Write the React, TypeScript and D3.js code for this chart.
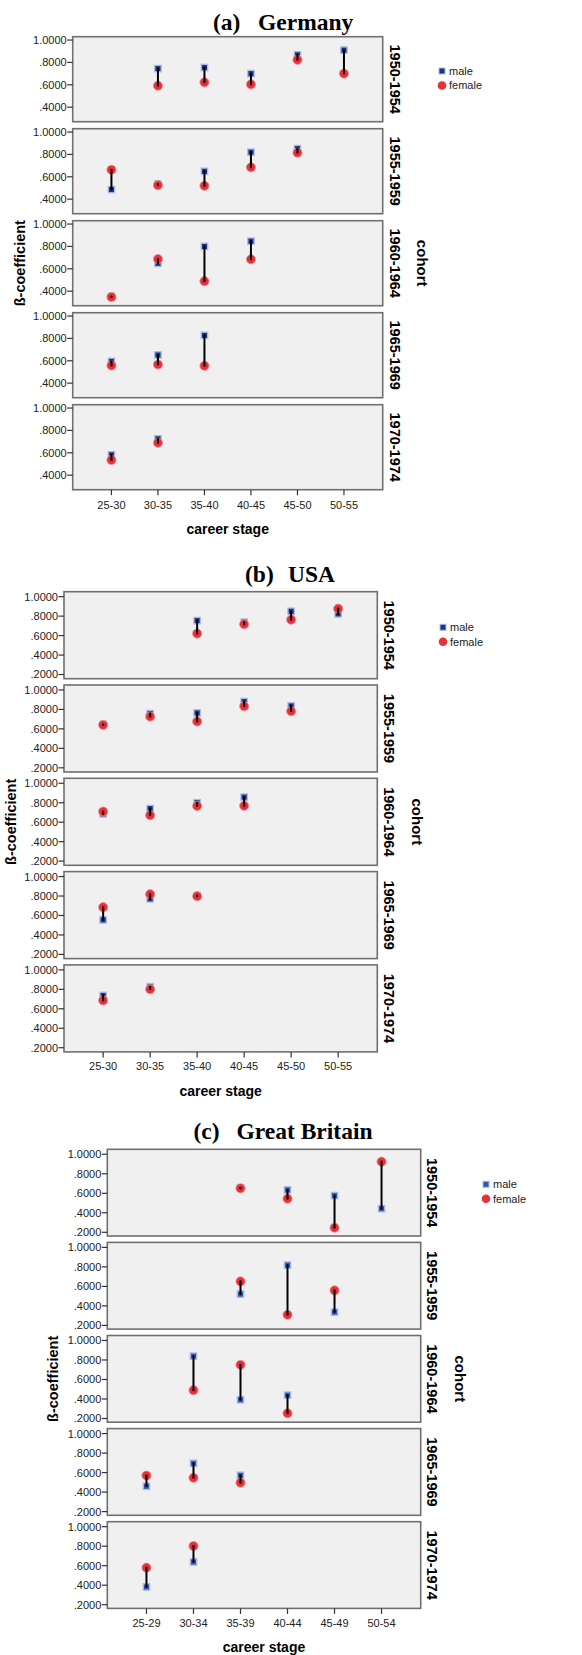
import React from "react";
import * as d3 from "d3";

// ---------- DATA ----------
const cohorts = ["1950-1954", "1955-1959", "1960-1964", "1965-1969", "1970-1974"];
const seriesNames = ["male", "female"];

const deStages = ["25-30", "30-35", "35-40", "40-45", "45-50", "50-55"];
const deMale: (number | null)[][] = [
  [null, 0.745, 0.754, 0.70, 0.868, 0.91],
  [0.486, 0.535, 0.649, 0.82, 0.852, null],
  [0.352, 0.649, 0.80, 0.847, null, null],
  [0.595, 0.652, 0.827, null, null, null],
  [0.582, 0.725, null, null, null, null],
];
const deFemale: (number | null)[][] = [
  [null, 0.592, 0.622, 0.604, 0.823, 0.70],
  [0.663, 0.525, 0.519, 0.685, 0.816, null],
  [0.348, 0.687, 0.489, 0.685, null, null],
  [0.558, 0.567, 0.555, null, null, null],
  [0.536, 0.69, null, null, null, null],
];

const usStages = ["25-30", "30-35", "35-40", "40-45", "45-50", "50-55"];
const usMale: (number | null)[][] = [
  [null, null, 0.754, 0.738, 0.85, 0.823],
  [0.645, 0.758, 0.764, 0.881, 0.836, null],
  [0.685, 0.74, 0.80, 0.858, null, null],
  [0.555, 0.771, 0.805, null, null, null],
  [0.737, 0.826, null, null, null, null],
];
const usFemale: (number | null)[][] = [
  [null, null, 0.621, 0.717, 0.764, 0.877],
  [0.641, 0.727, 0.676, 0.833, 0.782, null],
  [0.709, 0.672, 0.767, 0.768, null, null],
  [0.685, 0.819, 0.798, null, null, null],
  [0.686, 0.801, null, null, null, null],
];

const gbStages = ["25-29", "30-34", "35-39", "40-44", "45-49", "50-54"];
const gbMale: (number | null)[][] = [
  [null, null, 0.655, 0.634, 0.576, 0.442],
  [null, null, 0.521, 0.818, 0.336, null],
  [null, 0.839, 0.392, 0.439, null, null],
  [0.46, 0.695, 0.572, null, null, null],
  [0.382, 0.638, null, null, null, null],
];
const gbFemale: (number | null)[][] = [
  [null, null, 0.651, 0.545, 0.247, 0.924],
  [null, null, 0.651, 0.309, 0.559, null],
  [null, 0.49, 0.75, 0.254, null, null],
  [0.569, 0.546, 0.497, null, null, null],
  [0.58, 0.802, null, null, null, null],
];

const deTicks = [1.0, 0.8, 0.6, 0.4];
const usTicks = [1.0, 0.8, 0.6, 0.4, 0.2];
const gbTicks = [1.0, 0.8, 0.6, 0.4, 0.2];

// ---------- LAYOUT ----------
type Cfg = {
  tag: string; name: string; tagX: number; nameX: number; titleY: number;
  stages: string[]; male: (number | null)[][]; female: (number | null)[][];
  ticks: number[]; domain: [number, number];
  left: number; right: number; top: number; pitch: number; h: number;
  tickLabelY: number; xTitleY: number; rowX: number; cohortX: number; betaX: number;
  legX: number; legY: number; maleColor: string;
};

const charts: Cfg[] = [
  {
    tag: "(a)", name: "Germany", tagX: 213, nameX: 258, titleY: 30,
    stages: deStages, male: deMale, female: deFemale, ticks: deTicks, domain: [0.27, 1.03],
    left: 72.7, right: 382.7, top: 36.7, pitch: 92, h: 85,
    tickLabelY: 509, xTitleY: 534, rowX: 395, cohortX: 422, betaX: 20,
    legX: 442, legY: 71, maleColor: "#1f3580",
  },
  {
    tag: "(b)", name: "USA", tagX: 245, nameX: 288, titleY: 581.5,
    stages: usStages, male: usMale, female: usFemale, ticks: usTicks, domain: [0.157, 1.051],
    left: 64, right: 377.3, top: 591.7, pitch: 93.3, h: 87,
    tickLabelY: 1070, xTitleY: 1096, rowX: 389, cohortX: 417, betaX: 11,
    legX: 443, legY: 627.3, maleColor: "#1f3580",
  },
  {
    tag: "(c)", name: "Great Britain", tagX: 193.5, nameX: 236.5, titleY: 1139.3,
    stages: gbStages, male: gbMale, female: gbFemale, ticks: gbTicks, domain: [0.162, 1.051],
    left: 107.3, right: 420.7, top: 1149.3, pitch: 93.1, h: 86.7,
    tickLabelY: 1627, xTitleY: 1651.5, rowX: 432, cohortX: 460, betaX: 53,
    legX: 486, legY: 1184.3, maleColor: "#3556b0",
  },
];

const fmt = (v: number) => (v >= 1 ? v.toFixed(4) : v.toFixed(4).replace(/^0/, ""));
const SANS = "'Liberation Sans', Arial, sans-serif";
const SERIF = "'Liberation Serif', 'Times New Roman', serif";
const RED = "#e8303a";

function Country({ c }: { c: Cfg }) {
  const x = d3.scalePoint<string>().domain(c.stages).range([c.left, c.right]).padding(0.833);
  const lastBottom = c.top + (cohorts.length - 1) * c.pitch + c.h;
  const midCohort = c.top + 2 * c.pitch + c.h / 2;
  return (
    <g>
      <text y={c.titleY} fontFamily={SERIF} fontWeight="bold" fontSize={23.5} fill="#000">
        <tspan x={c.tagX}>{c.tag}</tspan>
        <tspan x={c.nameX}>{c.name}</tspan>
      </text>
      {cohorts.map((co, i) => {
        const top = c.top + i * c.pitch;
        const bottom = top + c.h;
        const y = d3.scaleLinear().domain(c.domain).range([bottom, top]);
        const males = c.male[i];
        const females = c.female[i];
        return (
          <g key={co}>
            <rect x={c.left} y={top} width={c.right - c.left} height={c.h} fill="#f0f0f0" stroke="#6f6f6f" strokeWidth={1.6} />
            {c.ticks.map((t) => (
              <g key={t}>
                <line x1={c.left - 5.5} x2={c.left} y1={y(t)} y2={y(t)} stroke="#333" strokeWidth={1.2} />
                <text x={c.left - 6} y={y(t)} dy="0.36em" textAnchor="end" fontFamily={SANS} fontSize={11} fill="#222">
                  {fmt(t)}
                </text>
              </g>
            ))}
            {males.map((m, j) =>
              m == null ? null : (
                <rect key={"m" + j} x={(x(c.stages[j]) as number) - 3.2} y={y(m) - 3.2} width={6.4} height={6.4}
                  fill={c.maleColor} stroke="#a9bbe6" strokeWidth={1.3} />
              )
            )}
            {females.map((f, j) =>
              f == null ? null : (
                <circle key={"f" + j} cx={x(c.stages[j]) as number} cy={y(f)} r={4.6} fill={RED} stroke="#f29095" strokeWidth={0.8} />
              )
            )}
            {males.map((m, j) => {
              const f = females[j];
              if (m == null || f == null) return null;
              const xx = x(c.stages[j]) as number;
              return (
                <g key={"l" + j}>
                  <line x1={xx} x2={xx} y1={y(m)} y2={y(f)} stroke="#000" strokeWidth={2} />
                  <circle cx={xx} cy={y(m)} r={1.1} fill="#000" />
                  <circle cx={xx} cy={y(f)} r={1.1} fill="#000" />
                </g>
              );
            })}
            <text transform={`translate(${c.rowX},${(top + bottom) / 2}) rotate(90)`} textAnchor="middle" dy="0.36em"
              fontFamily={SANS} fontWeight="bold" fontSize={14.5} fill="#000">
              {co}
            </text>
          </g>
        );
      })}
      {c.stages.map((s) => (
        <g key={s}>
          <line x1={x(s)} x2={x(s)} y1={lastBottom} y2={lastBottom + 5.5} stroke="#333" strokeWidth={1.2} />
          <text x={x(s)} y={c.tickLabelY} textAnchor="middle" fontFamily={SANS} fontSize={11} fill="#222">
            {s}
          </text>
        </g>
      ))}
      <text x={(c.left + c.right) / 2} y={c.xTitleY} textAnchor="middle" fontFamily={SANS} fontWeight="bold" fontSize={14} fill="#000">
        career stage
      </text>
      <text transform={`translate(${c.betaX},${midCohort}) rotate(-90)`} textAnchor="middle" dy="0.36em"
        fontFamily={SANS} fontWeight="bold" fontSize={14.5} fill="#000">
        ß-coefficient
      </text>
      <text transform={`translate(${c.cohortX},${midCohort}) rotate(90)`} textAnchor="middle" dy="0.36em"
        fontFamily={SANS} fontWeight="bold" fontSize={15} fill="#000">
        cohort
      </text>
      <rect x={c.legX - 3} y={c.legY - 3} width={6} height={6} fill={c.maleColor} stroke="#a9bbe6" strokeWidth={1} />
      <text x={c.legX + 7} y={c.legY} dy="0.36em" fontFamily={SANS} fontSize={11} fill="#222">{seriesNames[0]}</text>
      <circle cx={c.legX} cy={c.legY + 14.5} r={4.3} fill={RED} />
      <text x={c.legX + 7} y={c.legY + 14.5} dy="0.36em" fontFamily={SANS} fontSize={11} fill="#222">{seriesNames[1]}</text>
    </g>
  );
}

export default function App() {
  return (
    <svg width={582} height={1655} viewBox="0 0 582 1655"
      style={{ position: "absolute", left: 0, top: 0, background: "#fff", display: "block" }}>
      <rect x={0} y={0} width={582} height={1655} fill="#fff" />
      {charts.map((c) => (
        <Country key={c.name} c={c} />
      ))}
    </svg>
  );
}
